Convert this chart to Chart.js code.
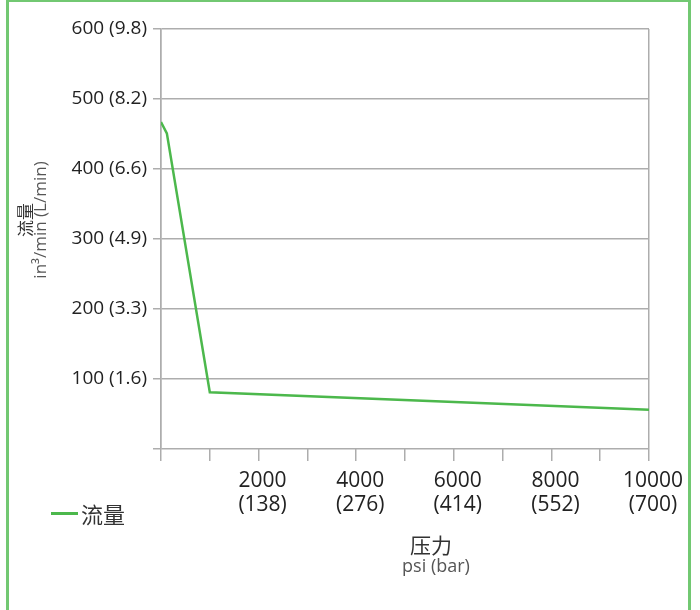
<!DOCTYPE html>
<html>
<head>
<meta charset="utf-8">
<script src="https://cdn.jsdelivr.net/npm/chart.js@4.4.1/dist/chart.umd.min.js"></script>
<style>
  html, body { margin: 0; padding: 0; background: #fff; overflow: hidden; }
  #wrap { position: relative; width: 700px; height: 610px; }
  #frame {
    position: absolute; left: 6px; top: -1px; width: 685px; height: 625px;
    box-sizing: border-box; border: 3px solid #72c872;
  }
  #chart { position: absolute; left: 0; top: 0; }
  #legend {
    position: absolute; left: 51px; top: 498px; height: 30px;
    display: flex; align-items: center;
    font: 22px 'Noto Sans CJK SC', sans-serif; color: #333;
  }
  #legend .swatch { width: 27px; height: 3px; background: #4cb84c; margin-right: 3px; }
</style>
</head>
<body>
<div id="wrap">
  <canvas id="chart" width="700" height="610"></canvas>
  <div id="frame"></div>
  <div id="legend"><span class="swatch"></span><span>流量</span></div>
</div>
<script>
// pressure (psi) vs flow (in3/min)
const pressurePsi = [0, 120, 1000, 10000];
const flowIn3 = [467, 451, 81, 56];

const xTickLabels = {
    2000: ['2000', '(138)'],
    4000: ['4000', '(276)'],
    6000: ['6000', '(414)'],
    8000: ['8000', '(552)'],
    10000: ['10000', '(700)']
};
const yTickLabels = {
    100: '100 (1.6)',
    200: '200 (3.3)',
    300: '300 (4.9)',
    400: '400 (6.6)',
    500: '500 (8.2)',
    600: '600 (9.8)'
};

const seriesName = '流量';
const xTitle = ['压力', 'psi (bar)'];
const yTitle = ['流量', 'in³/min (L/min)'];

const LATIN = "'Open Sans', 'Noto Sans CJK SC', sans-serif";
const CJK = "'Noto Sans CJK SC', sans-serif";
const GRID = '#adadad';

// axis titles drawn by hand so they can sit where the original has them
const axisTitles = {
    id: 'axisTitles',
    afterDraw(chart) {
        const ctx = chart.ctx;
        ctx.save();
        ctx.textAlign = 'center';
        ctx.textBaseline = 'middle';

        ctx.fillStyle = '#333';
        ctx.font = '21px ' + CJK;
        ctx.fillText(xTitle[0], 431, 545);
        ctx.fillStyle = '#555';
        ctx.font = '18px ' + LATIN;
        ctx.fillText(xTitle[1], 436, 567);

        ctx.translate(0, 220);
        ctx.rotate(-Math.PI / 2);
        ctx.fillStyle = '#333';
        ctx.font = '17px ' + CJK;
        ctx.fillText(yTitle[0], 0, 26);
        ctx.fillStyle = '#555';
        ctx.font = '17px ' + LATIN;
        ctx.fillText(yTitle[1], 0, 41);
        ctx.restore();
    }
};

new Chart(document.getElementById('chart'), {
    type: 'line',
    data: {
        datasets: [{
            label: seriesName,
            data: pressurePsi.map((p, i) => ({ x: p, y: flowIn3[i] })),
            borderColor: '#4cb84c',
            borderWidth: 2.5,
            pointRadius: 0,
            tension: 0,
            fill: false
        }]
    },
    options: {
        responsive: false,
        animation: false,
        layout: { padding: { left: 0, right: 51, top: 29, bottom: 81 } },
        plugins: {
            legend: { display: false },
            tooltip: { enabled: false }
        },
        scales: {
            x: {
                type: 'linear',
                min: 0,
                max: 10000,
                afterFit: (scale) => { scale.height = 80; },
                border: { display: false },
                grid: {
                    color: (c) => (c.tick && (c.tick.value === 0 || c.tick.value === 10000)) ? GRID : 'rgba(0,0,0,0)',
                    tickColor: GRID,
                    lineWidth: 1.5,
                    tickLength: 12
                },
                ticks: {
                    stepSize: 1000,
                    autoSkip: false,
                    maxRotation: 0,
                    padding: 8,
                    labelOffset: 4,
                    color: '#222',
                    font: { family: LATIN, size: 21, lineHeight: 1.15 },
                    callback: (v) => xTickLabels[v] || ''
                }
            },
            y: {
                min: 0,
                max: 600,
                afterFit: (scale) => { scale.width = 161; },
                border: { display: true, color: GRID, width: 1.5 },
                grid: {
                    color: GRID,
                    lineWidth: 1.5,
                    tickLength: 8
                },
                ticks: {
                    stepSize: 100,
                    padding: 6,
                    color: '#222',
                    font: { family: LATIN, size: 19 },
                    callback: (v) => yTickLabels[v] || ''
                }
            }
        }
    },
    plugins: [axisTitles]
});
</script>
</body>
</html>
